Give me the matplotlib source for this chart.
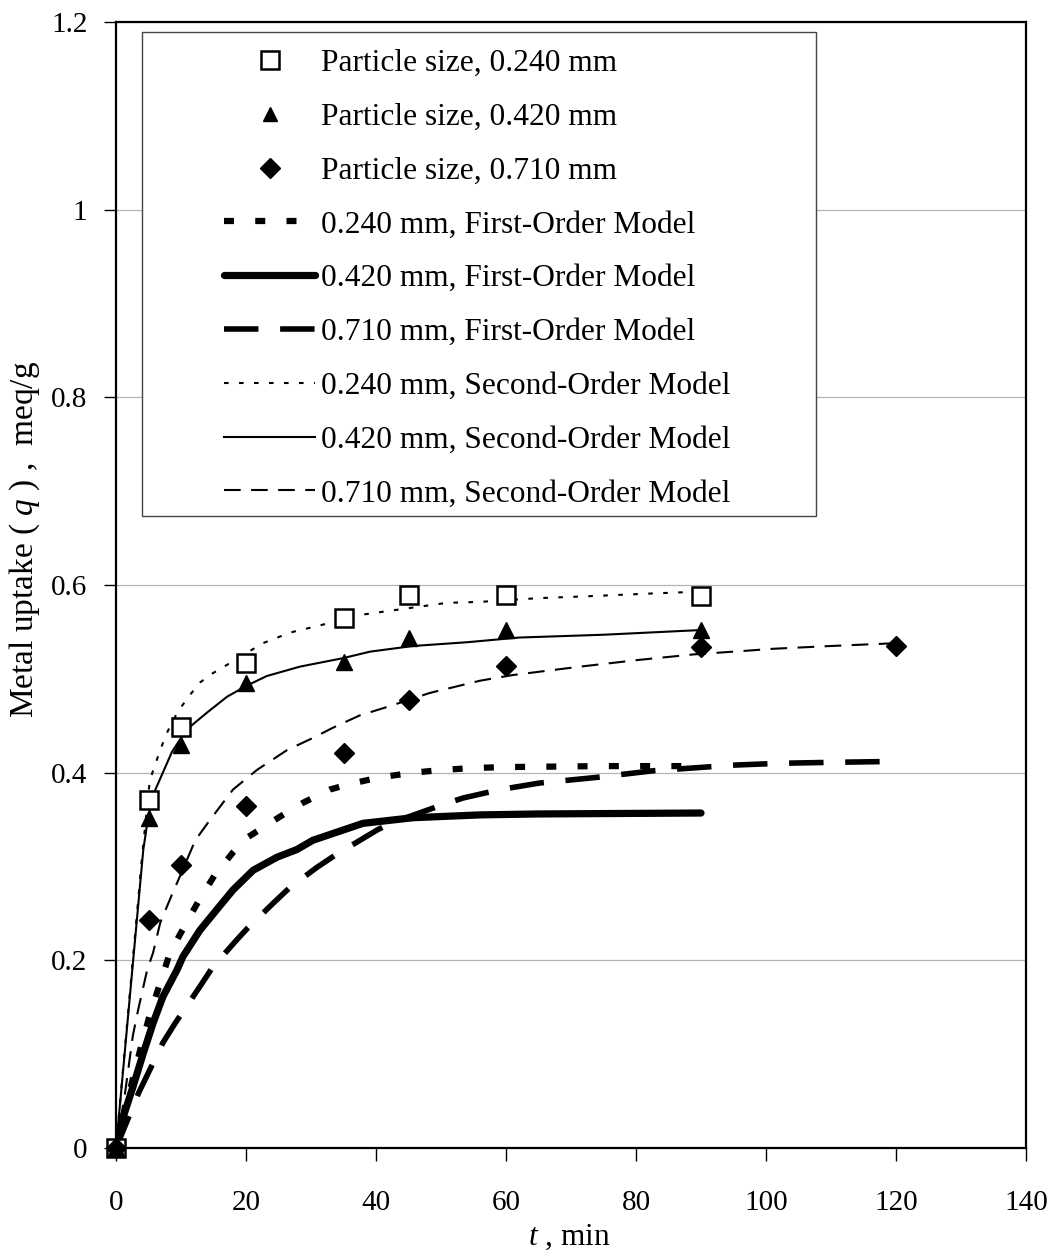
from __future__ import annotations

import matplotlib

matplotlib.use("Agg")
import matplotlib.pyplot as plt
from matplotlib.patches import Rectangle


# experimental points
T_EXP = [0, 5, 10, 20, 35, 45, 60, 90]
T_EXP_710 = [0, 5, 10, 20, 35, 45, 60, 90, 120]
Q_240 = [0, 0.371, 0.449, 0.517, 0.565, 0.589, 0.589, 0.588]
Q_420 = [0, 0.352, 0.429, 0.496, 0.518, 0.544, 0.552, 0.552]
Q_710 = [0, 0.243, 0.302, 0.364, 0.421, 0.477, 0.514, 0.534, 0.535]

# model curves
T_FO_240 = [0, 1.1, 3.7, 5.2, 6.8, 8.3, 10.2, 12.6, 15.2, 18, 20, 25.2, 28.8, 32.9, 36, 40.6,
            45.7, 50.3, 55, 60.2, 75, 90]
Q_FO_240 = [0, 0.033, 0.104, 0.142, 0.176, 0.208, 0.232, 0.262, 0.291, 0.315, 0.330, 0.353,
            0.368, 0.382, 0.388, 0.395, 0.400, 0.403, 0.405, 0.406, 0.407, 0.407]

T_FO_420 = [0, 1.1, 2.6, 4.2, 5.7, 7.2, 9.4, 10.3, 12.9, 15.5, 18, 21.1, 24.8, 27.8, 30.3, 38,
            45.7, 56, 65, 90]
Q_FO_420 = [0, 0.033, 0.065, 0.101, 0.133, 0.161, 0.190, 0.204, 0.232, 0.254, 0.275, 0.296,
            0.310, 0.318, 0.328, 0.346, 0.352, 0.355, 0.356, 0.357]

T_FO_710 = [0, 3.5, 7.2, 9.1, 12.9, 14.9, 18.6, 20.2, 24.2, 26.8, 30.9, 33.7, 40.2, 42.2, 50.3,
            53.4, 59.1, 65.2, 74, 82.6, 94.9, 102.2, 110, 120]
Q_FO_710 = [0, 0.059, 0.112, 0.133, 0.172, 0.193, 0.222, 0.234, 0.261, 0.278, 0.299, 0.312,
            0.339, 0.346, 0.366, 0.373, 0.382, 0.389, 0.395, 0.402, 0.408, 0.410, 0.411, 0.412]

T_SO_240 = [0, 2, 4, 5.2, 6.8, 7.8, 9.5, 11.4, 12.9, 14.9, 17.1, 20.2, 22.6, 25.2, 27.2, 31.4,
            37.5, 42.6, 46.8, 50.9, 56, 65, 72.5, 82.6, 90]
Q_SO_240 = [0, 0.155, 0.310, 0.392, 0.424, 0.442, 0.465, 0.483, 0.496, 0.506, 0.515, 0.528,
            0.538, 0.545, 0.550, 0.557, 0.568, 0.573, 0.577, 0.581, 0.582, 0.586, 0.588, 0.591,
            0.593]

T_SO_420 = [0, 4.2, 5, 6, 8.6, 10, 11.4, 14, 17.1, 20.2, 23.2, 28.3, 34.9, 39.1, 45.7, 54, 62,
            75, 90]
Q_SO_420 = [0, 0.318, 0.355, 0.381, 0.422, 0.437, 0.449, 0.464, 0.481, 0.493, 0.503, 0.513,
            0.522, 0.529, 0.535, 0.539, 0.544, 0.547, 0.552]

T_SO_710 = [0, 1.4, 2.6, 3.4, 4.8, 5.7, 6.8, 8.6, 9.8, 12.2, 14.5, 18, 21.7, 26.3, 30.3, 33.4,
            37.5, 41.7, 48.3, 56, 61, 71.4, 80.2, 88.8, 97.1, 101, 110, 120]
Q_SO_710 = [0, 0.059, 0.120, 0.147, 0.190, 0.208, 0.240, 0.270, 0.289, 0.328, 0.350, 0.382,
            0.403, 0.424, 0.437, 0.448, 0.461, 0.470, 0.485, 0.498, 0.504, 0.513, 0.520, 0.526,
            0.530, 0.532, 0.535, 0.538]

X_TICKS = [0, 20, 40, 60, 80, 100, 120, 140]
Y_TICKS = [0, 0.2, 0.4, 0.6, 0.8, 1.0, 1.2]
Y_TICK_LABELS = ["0", "0.2", "0.4", "0.6", "0.8", "1", "1.2"]


def main() -> None:
    plt.rcParams.update(
        {
            "font.family": ["Liberation Serif", "DejaVu Serif"],
            "mathtext.fontset": "custom",
            "mathtext.rm": "Liberation Serif",
            "mathtext.it": "Liberation Serif:italic",
            "font.size": 21,
        }
    )
    W, H = 1055, 1252
    fig = plt.figure(figsize=(W / 100, H / 100), dpi=100)
    ax = fig.add_axes([116 / W, (H - 1148) / H, 910 / W, 1126 / H])

    ax.set_xlim(0, 140)
    ax.set_ylim(0, 1.2)
    ax.set_xticks(X_TICKS)
    ax.set_yticks(Y_TICKS)
    ax.set_yticklabels(Y_TICK_LABELS)
    ax.tick_params(axis="x", direction="out", length=9, width=1.0, pad=21, labelsize=21)
    ax.tick_params(axis="y", direction="out", length=9, width=1.0, pad=11.5, labelsize=21)
    for sp in ax.spines.values():
        sp.set_linewidth(1.6)
        sp.set_color("black")
    ax.yaxis.grid(True, color="#b4b4b4", linewidth=0.9, zorder=0)
    ax.set_axisbelow(True)

    # legend background box
    ax.add_patch(Rectangle((26 / 910, (1148 - 516) / 1126), (816 - 142) / 910, (516 - 32) / 1126,
                           transform=ax.transAxes, facecolor="white", edgecolor="#444444",
                           linewidth=1.0, zorder=1.5))

    handles = []
    h, = ax.plot(T_EXP, Q_240, linestyle="none", marker="s", markersize=13, markerfacecolor="white",
                 markeredgecolor="black", markeredgewidth=1.8, clip_on=False, zorder=5,
                 label="Particle size, 0.240 mm")
    handles.append(h)
    h, = ax.plot(T_EXP, Q_420, linestyle="none", marker="^", markersize=11, color="black",
                 clip_on=False, zorder=5, label="Particle size, 0.420 mm")
    handles.append(h)
    h, = ax.plot(T_EXP_710, Q_710, linestyle="none", marker="D", markersize=10.5, color="black",
                 clip_on=False, zorder=5, label="Particle size, 0.710 mm")
    handles.append(h)

    h, = ax.plot(T_FO_240, Q_FO_240, color="black", linewidth=4.5, linestyle=(0, (1.6, 3.4)),
                 dash_capstyle="butt", zorder=3, label="0.240 mm, First-Order Model")
    handles.append(h)
    h, = ax.plot(T_FO_420, Q_FO_420, color="black", linewidth=5.2, solid_capstyle="round",
                 zorder=3, label="0.420 mm, First-Order Model")
    handles.append(h)
    h, = ax.plot(T_FO_710, Q_FO_710, color="black", linewidth=4.0, linestyle=(0, (6.2, 3.9)),
                 dash_capstyle="butt", zorder=3, label="0.710 mm, First-Order Model")
    handles.append(h)

    h, = ax.plot(T_SO_240, Q_SO_240, color="black", linewidth=1.5, linestyle=(0, (2.2, 5.0)),
                 zorder=3, label="0.240 mm, Second-Order Model")
    handles.append(h)
    h, = ax.plot(T_SO_420, Q_SO_420, color="black", linewidth=1.5, zorder=3,
                 label="0.420 mm, Second-Order Model")
    handles.append(h)
    h, = ax.plot(T_SO_710, Q_SO_710, color="black", linewidth=1.5, linestyle=(0, (8.0, 5.0)),
                 zorder=3, label="0.710 mm, Second-Order Model")
    handles.append(h)

    leg = ax.legend(
        handles,
        [x.get_label() for x in handles],
        loc="upper left",
        bbox_to_anchor=((224 - 116) / 910, (1148 - 49) / 1126),
        frameon=False,
        fontsize=22.6,
        borderpad=0,
        borderaxespad=0,
        handlelength=2.9,
        handletextpad=0.19,
        labelspacing=0.79,
        numpoints=1,
        markerscale=0.95,
    )
    leg.set_zorder(6)

    ax.set_ylabel("Metal uptake ( $q$ ) ,  meq/g", fontsize=24)
    ax.yaxis.set_label_coords((42 - 116) / 910, (1148 - 539) / 1126)
    ax.set_xlabel("$t$ , min", fontsize=22.5)
    ax.xaxis.label.set_va("baseline")
    ax.xaxis.set_label_coords((569 - 116) / 910, (1148 - 1245) / 1126)

    fig.savefig("out.png", dpi=100)
    plt.close(fig)


if __name__ == "__main__":
    main()
